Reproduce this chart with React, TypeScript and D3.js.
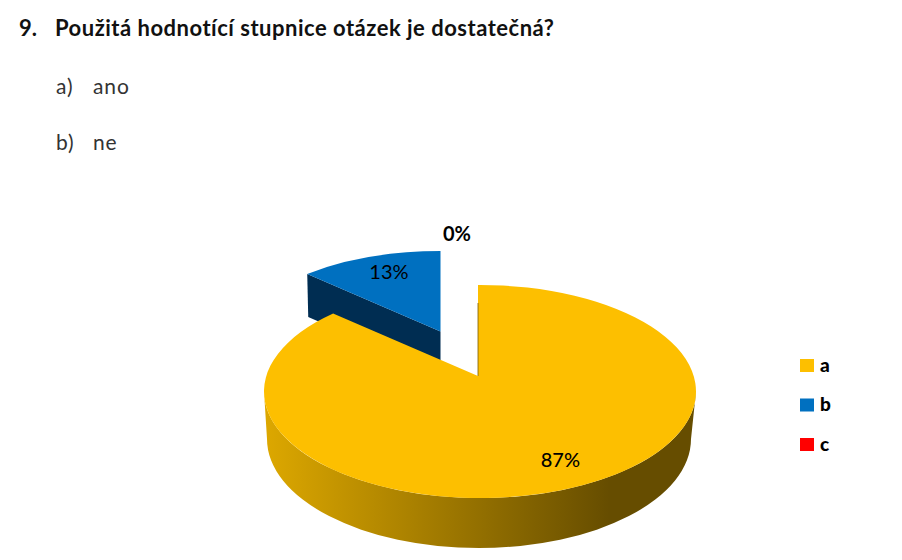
import React from 'react';
import * as d3 from 'd3';

const categories = ['a', 'b', 'c'];
const values = [87, 13, 0];
const colors = ['#FDBF00', '#0070C0', '#FF0000'];
const questionNumber = '9.';
const question = 'Použitá hodnotící stupnice otázek je dostatečná?';
const optionKeys = ['a)', 'b)'];
const optionTexts = ['ano', 'ne'];

const width = 902;
const height = 560;
const tilt = 0.46;

// each slice has its own apex and projected ellipse, perspective makes them differ
const yellowTop = { cx: 480, cy: 391.5, rx: 216, ry: 106.5, ax: 478, ay: 376 };
const blueTop = { cx: 442, cy: 343, rx: 204, ry: 92, ax: 440.5, ay: 331.5 };
const yellowBottom = { cx: 479, cy: 439, rx: 212, ry: 109 };
const blueDepth = 43;

type Ellipse = typeof yellowTop;

// where the ray from the apex at pie angle t meets the ellipse
function rim(e: Ellipse, t: number): [number, number] {
  const dx = Math.sin(t);
  const dy = -Math.cos(t) * tilt;
  const ox = (e.ax - e.cx) / e.rx;
  const oy = (e.ay - e.cy) / e.ry;
  const px = dx / e.rx;
  const py = dy / e.ry;
  const a = px * px + py * py;
  const b = 2 * (ox * px + oy * py);
  const c = ox * ox + oy * oy - 1;
  const s = (-b + Math.sqrt(b * b - 4 * a * c)) / (2 * a);
  return [e.ax + dx * s, e.ay + dy * s];
}

function slicePath(e: Ellipse, a0: number, a1: number) {
  const [x0, y0] = rim(e, a0);
  const [x1, y1] = rim(e, a1);
  const large = a1 - a0 > Math.PI ? 1 : 0;
  return `M${e.ax},${e.ay}L${x0},${y0}A${e.rx},${e.ry} 0 ${large} 1 ${x1},${y1}Z`;
}

function labelPos(ax: number, ay: number, t: number, dist: number) {
  return [ax + Math.sin(t) * dist, ay - Math.cos(t) * tilt * dist];
}

export default function App() {
  const arcs = d3.pie<number>().sort(null)(values);
  const yellow = arcs[0];
  const blue = arcs[1];
  const zero = arcs[2];

  const [bx, by] = rim(blueTop, blue.startAngle);

  const sidePath =
    `M${yellowTop.cx - yellowTop.rx},${yellowTop.cy}` +
    `L${yellowBottom.cx - yellowBottom.rx},${yellowBottom.cy}` +
    `A${yellowBottom.rx},${yellowBottom.ry} 0 0 0 ${yellowBottom.cx + yellowBottom.rx},${yellowBottom.cy}` +
    `L${yellowTop.cx + yellowTop.rx},${yellowTop.cy}` +
    `A${yellowTop.rx},${yellowTop.ry} 0 0 1 ${yellowTop.cx - yellowTop.rx},${yellowTop.cy}Z`;

  const legendY = d3.scalePoint<string>().domain(categories).range([365, 444]);

  const labelMid = (d: d3.PieArcDatum<number>) => (d.startAngle + d.endAngle) / 2;
  const yellowLabel = labelPos(yellowTop.ax, yellowTop.ay, labelMid(yellow), 200);
  const blueLabel = labelPos(blueTop.ax + 4, blueTop.ay, labelMid(blue), 140);
  const zeroLabel = labelPos(457, 331, labelMid(zero), 211);

  return (
    <svg
      width={width}
      height={height}
      style={{ position: 'absolute', left: 0, top: 0, background: '#fff' }}
    >
      <defs>
        <linearGradient id="side" gradientUnits="userSpaceOnUse" x1="264" x2="696" y1="0" y2="0">
          <stop offset="0" stopColor="#DDA800" />
          <stop offset="0.8" stopColor="#664D00" />
          <stop offset="1" stopColor="#664D00" />
        </linearGradient>
      </defs>

      <g fontFamily="Lato, sans-serif">
        <text x={19} y={36} fontSize={22} fontWeight={700} fill="#111">{questionNumber}</text>
        <text x={55} y={36} fontSize={22} fontWeight={700} letterSpacing={0.5} fill="#111">{question}</text>
        {optionKeys.map((k, i) => (
          <g key={k} fontSize={21} letterSpacing={0.9} fill="#333">
            <text x={56} y={93.5 + i * 56.5}>{k}</text>
            <text x={93} y={93.5 + i * 56.5}>{optionTexts[i]}</text>
          </g>
        ))}
      </g>

      {/* blue slice, pulled out behind the big one */}
      <path
        d={`M${bx},${by}L${bx + 1},${by + blueDepth}L${blueTop.ax},${blueTop.ay + blueDepth}L${blueTop.ax},${blueTop.ay}Z`}
        fill="#002D52"
      />
      <path d={slicePath(blueTop, blue.startAngle, blue.endAngle)} fill={colors[1]} />

      {/* yellow slice */}
      <path d={sidePath} fill="url(#side)" />
      <path d={slicePath(yellowTop, yellow.startAngle, yellow.endAngle)} fill={colors[0]} />
      <line
        x1={yellowTop.ax}
        y1={yellowTop.ay}
        x2={yellowTop.ax}
        y2={rim(yellowTop, yellow.startAngle)[1] + 18}
        stroke="#7A5C00"
        strokeWidth={0.8}
      />

      <g fontFamily="Lato, sans-serif" fontSize={20} textAnchor="middle" fill="#000">
        <text x={yellowLabel[0] + 3} y={yellowLabel[1]} dy="0.35em" fontWeight={500}>{values[0]}%</text>
        <text x={blueLabel[0]} y={blueLabel[1]} dy="0.35em">{values[1]}%</text>
        <text x={zeroLabel[0]} y={zeroLabel[1]} dy="0.35em" fontWeight={700}>{values[2]}%</text>
      </g>

      {categories.map((c, i) => (
        <g key={c}>
          <rect x={800} y={legendY(c)! - 6} width={14} height={13} fill={colors[i]} />
          <text x={820} y={legendY(c)!} dy="0.35em" fontFamily="Lato, sans-serif" fontSize={19} fontWeight={900} fill="#000">
            {c}
          </text>
        </g>
      ))}
    </svg>
  );
}
